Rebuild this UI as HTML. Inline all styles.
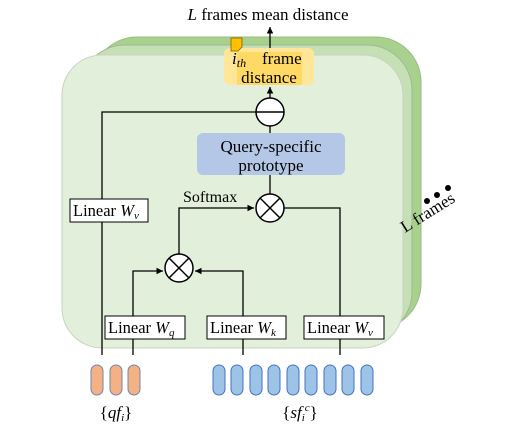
<!DOCTYPE html>
<html><head><meta charset="utf-8"><style>
body{margin:0;background:#fff}
svg{display:block}
text{font-family:"Liberation Serif",serif;fill:#000}
</style></head><body>
<svg width="510" height="428" viewBox="0 0 510 428" xmlns="http://www.w3.org/2000/svg">
<defs><marker id="a" markerWidth="6" markerHeight="6" refX="5" refY="3" orient="auto"><path d="M0,0.5 L5,3 L0,5.5z" fill="#000"/></marker></defs>
<rect x="92" y="37" width="329" height="292" rx="45" fill="#a9d18e" stroke="#98bd80"/>
<rect x="80" y="45" width="332" height="292" rx="45" fill="#c5e0b4" stroke="#9fb896"/>
<rect x="62" y="55" width="341" height="293" rx="40" fill="#e2efda" stroke="#c8d3c2"/>
<rect x="224" y="48" width="90" height="37" rx="6" fill="#ffe699"/>
<rect x="237" y="52" width="65" height="33" fill="#ffd966"/>
<path d="M231,38 h11 v9 l-4,4 h-7z" fill="#ffc000" stroke="#7f6000" stroke-width="0.8"/>
<text x="232" y="64" font-size="17" font-style="italic">i<tspan font-size="12" dy="3">th</tspan></text>
<text x="262" y="64" font-size="17">frame</text>
<text x="269" y="83" font-size="17" text-anchor="middle">distance</text>
<text x="268" y="20" font-size="17" text-anchor="middle"><tspan font-style="italic">L</tspan> frames mean distance</text>
<line x1="270" y1="48" x2="270" y2="27" stroke="#000" stroke-width="1.3" marker-end="url(#a)"/>
<line x1="270" y1="98" x2="270" y2="87" stroke="#000" stroke-width="1.3" marker-end="url(#a)"/>
<rect x="197" y="133" width="148" height="42" rx="6" fill="#b4c7e7"/>
<text x="271" y="152" font-size="17" text-anchor="middle">Query-specific</text>
<text x="271" y="171" font-size="17" text-anchor="middle">prototype</text>
<line x1="270" y1="126" x2="270" y2="133" stroke="#000" stroke-width="1.3"/>
<line x1="270" y1="175" x2="270" y2="194" stroke="#000" stroke-width="1.3"/>
<circle cx="270" cy="112" r="14" fill="#fff" stroke="#000" stroke-width="1.5"/>
<line x1="256" y1="112" x2="284" y2="112" stroke="#000" stroke-width="1.5"/>
<polyline points="102,355 102,112 256,112" fill="none" stroke="#000" stroke-width="1.3"/>
<rect x="70" y="199" width="78" height="23" fill="#fff" stroke="#000"/>
<text x="73" y="216" font-size="16.5">Linear <tspan font-style="italic">W</tspan><tspan font-style="italic" font-size="11" dy="3">v</tspan></text>
<text x="183" y="202" font-size="16">Softmax</text>
<circle cx="270" cy="208" r="14" fill="#fff" stroke="#000" stroke-width="1.5"/>
<path d="M260,198 L280,218 M280,198 L260,218" stroke="#000" stroke-width="1.5"/>
<polyline points="179,254 179,208 254,208" fill="none" stroke="#000" stroke-width="1.3" marker-end="url(#a)"/>
<polyline points="340,355 340,208 284,208" fill="none" stroke="#000" stroke-width="1.3"/>
<circle cx="179" cy="268" r="14" fill="#fff" stroke="#000" stroke-width="1.5"/>
<path d="M169,258 L189,278 M189,258 L169,278" stroke="#000" stroke-width="1.5"/>
<polyline points="133,355 133,271 163,271" fill="none" stroke="#000" stroke-width="1.3" marker-end="url(#a)"/>
<polyline points="243,355 243,271 195,271" fill="none" stroke="#000" stroke-width="1.3" marker-end="url(#a)"/>
<rect x="105" y="316" width="80" height="23" fill="#fff" stroke="#000"/>
<text x="108" y="333" font-size="16.5">Linear <tspan font-style="italic">W</tspan><tspan font-style="italic" font-size="11" dy="3">q</tspan></text>
<rect x="207" y="316" width="79" height="23" fill="#fff" stroke="#000"/>
<text x="210" y="333" font-size="16.5">Linear <tspan font-style="italic">W</tspan><tspan font-style="italic" font-size="11" dy="3">k</tspan></text>
<rect x="304" y="316" width="80" height="23" fill="#fff" stroke="#000"/>
<text x="307" y="333" font-size="16.5">Linear <tspan font-style="italic">W</tspan><tspan font-style="italic" font-size="11" dy="3">v</tspan></text>
<g fill="#f4b183" stroke="#6f86b0" stroke-width="1">
<rect x="91" y="365" width="12" height="30" rx="6"/><rect x="110" y="365" width="12" height="30" rx="6"/><rect x="128" y="365" width="12" height="30" rx="6"/>
</g>
<g fill="#9dc3e6" stroke="#4472c4" stroke-width="1">
<rect x="213" y="365" width="12" height="30" rx="6"/><rect x="231" y="365" width="12" height="30" rx="6"/><rect x="250" y="365" width="12" height="30" rx="6"/><rect x="268" y="365" width="12" height="30" rx="6"/><rect x="287" y="365" width="12" height="30" rx="6"/><rect x="305" y="365" width="12" height="30" rx="6"/><rect x="324" y="365" width="12" height="30" rx="6"/><rect x="342" y="365" width="12" height="30" rx="6"/><rect x="361" y="365" width="12" height="30" rx="6"/>
</g>
<text x="116" y="418" font-size="17" text-anchor="middle">{<tspan font-style="italic">qf</tspan><tspan font-style="italic" font-size="11" dy="3">i</tspan><tspan dy="-3">}</tspan></text>
<text x="300" y="418" font-size="17" text-anchor="middle">{<tspan font-style="italic">sf</tspan><tspan font-style="italic" font-size="11" dy="3">i</tspan><tspan font-style="italic" font-size="11" dy="-10">c</tspan><tspan dy="7">}</tspan></text>
<circle cx="427" cy="201" r="3" fill="#000"/><circle cx="437" cy="195" r="3" fill="#000"/><circle cx="448" cy="188" r="3" fill="#000"/>
<text x="0" y="0" font-size="17" transform="translate(405,233) rotate(-32)">L frames</text>
</svg>
</body></html>
